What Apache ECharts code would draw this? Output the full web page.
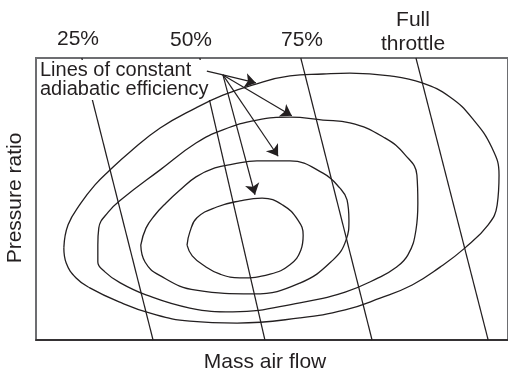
<!DOCTYPE html>
<html>
<head>
<meta charset="utf-8">
<script src="https://cdn.jsdelivr.net/npm/echarts@6/dist/echarts.min.js"></script>
<style>
html, body { margin: 0; padding: 0; background: #fff; }
#main { width: 508px; height: 371px; }
</style>
</head>
<body>
<div id="main"></div>
<script>
// contours of constant adiabatic efficiency, [mass air flow, pressure ratio], axis 0-100 x 0-60
var contourOuter = [[5.9,19.6],[6.8,24.5],[9.5,29.1],[12.5,33.0],[15.5,36.0],[19.9,40.0],[26.3,45.1],[33.9,49.4],
    [39.6,52.1],[46.0,54.3],[53.8,56.2],[60.8,56.6],[66.5,56.8],[75.0,56.2],[81.8,54.7],[87.7,51.7],[92.4,47.2],
    [96.6,40.9],[98.1,35.1],[97.7,28.7],[95.8,24.5],[90.9,19.6],[85.6,15.5],[79.7,11.7],[72.9,8.9],[65.5,6.4],
    [55.9,4.7],[42.6,3.6],[32.6,4.0],[24.2,5.7],[17.6,8.1],[11.4,11.1],[8.5,13.2],[6.4,16.4]];
var contour2 = [[13.1,20.2],[13.3,23.8],[15.3,27.2],[18.2,30.0],[26.3,36.2],[33.9,41.9],[39.6,44.7],[46.8,46.8],
    [53.8,47.4],[60.8,46.8],[66.5,46.2],[73.9,43.0],[78.2,39.4],[80.7,35.1],[80.9,29.1],[80.5,23.4],[78.8,18.1],
    [76.1,15.3],[72.5,13.2],[65.5,10.2],[55.9,7.9],[41.7,6.0],[32.6,6.8],[23.3,9.6],[17.6,12.3],[14.6,14.5],[13.1,16.6]];
var contour3 = [[22.2,20.2],[23.3,23.8],[25.2,26.6],[27.5,29.1],[30.5,31.9],[33.9,34.7],[37.9,36.6],[41.7,37.4],
    [46.8,38.1],[53.8,38.1],[60.8,35.5],[64.4,32.3],[65.9,29.8],[66.3,25.5],[65.7,21.3],[62.9,17.0],[55.9,12.1],
    [46.0,9.8],[33.9,10.6],[26.1,13.8],[23.1,16.6]];
var contourInner = [[32.0,20.2],[32.6,23.0],[34.1,26.0],[38.3,28.3],[43.2,29.6],[47.9,30.2],[52.3,28.7],[55.5,25.5],
    [56.6,22.3],[56.1,19.1],[53.8,16.0],[49.6,14.0],[43.2,13.2],[39.0,14.0],[35.8,15.7],[33.1,17.9]];

// throttle lines: x at top (y=60) and bottom (y=0)
var throttleNames = ['25%', '50%', '75%', 'Full throttle'];
var throttleTopX = [9.7, 34.7, 56.1, 80.5];
var throttleBottomX = [24.8, 48.5, 71.2, 95.8];

// annotation arrows
var arrowTail = [36.2, 57.2];
var arrowOrigin = [39.6, 56.4];
var arrowTargets = [[46.6, 54.7], [54.2, 47.7], [51.3, 39.1], [46.4, 30.9]];

var ink = '#231f20';
var font = '"Liberation Sans", Arial, sans-serif';

var myChart = echarts.init(document.getElementById('main'));

var series = [];
[contourOuter, contour2, contour3, contourInner].forEach(function (c) {
    series.push({
        type: 'line',
        data: c.concat([c[0]]),
        smooth: 0.45,
        showSymbol: false,
        silent: true,
        lineStyle: { color: ink, width: 1.3 }
    });
});
throttleNames.forEach(function (name, i) {
    series.push({
        name: name,
        type: 'line',
        data: [[throttleTopX[i], 60], [throttleBottomX[i], 0]],
        showSymbol: false,
        silent: true,
        lineStyle: { color: ink, width: 1.2 }
    });
});
series.push({
    type: 'line',
    data: [arrowTail, arrowOrigin],
    showSymbol: false,
    silent: true,
    z: 20,
    lineStyle: { color: ink, width: 1.2 }
});
series.push({
    type: 'lines',
    coordinateSystem: 'cartesian2d',
    symbol: ['none', 'arrow'],
    symbolSize: 11,
    silent: true,
    z: 20,
    lineStyle: { color: ink, width: 1.2, opacity: 1 },
    data: arrowTargets.map(function (t) { return { coords: [arrowOrigin, t] }; })
});

option = {
    backgroundColor: '#fff',
    animation: false,
    grid: {
        left: 36,
        right: -2,
        top: 58,
        bottom: 31,
        show: true,
        borderColor: '#6d6e71',
        borderWidth: 2
    },
    xAxis: {
        type: 'value',
        min: 0,
        max: 100,
        axisLine: { show: true, lineStyle: { color: ink, width: 1.5 } },
        axisTick: { show: false },
        axisLabel: { show: false },
        splitLine: { show: false }
    },
    yAxis: {
        type: 'value',
        min: 0,
        max: 60,
        axisLine: { show: false },
        axisTick: { show: false },
        axisLabel: { show: false },
        splitLine: { show: false }
    },
    graphic: [
        { type: 'rect', z: 50, shape: { x: 38, y: 60, width: 168, height: 22 }, style: { fill: '#fff' } },
        { type: 'rect', z: 50, shape: { x: 38, y: 80, width: 172, height: 20 }, style: { fill: '#fff' } },
        { type: 'text', z: 60, x: 40, y: 61, style: {
            text: 'Lines of constant\nadiabatic efficiency', font: '20px ' + font, fill: ink, lineHeight: 19 } },
        { type: 'text', z: 60, x: 78, y: 39, style: { text: '25%', font: '21px ' + font, fill: ink, textAlign: 'center', textVerticalAlign: 'middle' } },
        { type: 'text', z: 60, x: 191, y: 40, style: { text: '50%', font: '21px ' + font, fill: ink, textAlign: 'center', textVerticalAlign: 'middle' } },
        { type: 'text', z: 60, x: 302, y: 40, style: { text: '75%', font: '21px ' + font, fill: ink, textAlign: 'center', textVerticalAlign: 'middle' } },
        { type: 'text', z: 60, x: 413, y: 20, style: { text: 'Full', font: '21px ' + font, fill: ink, textAlign: 'center', textVerticalAlign: 'middle' } },
        { type: 'text', z: 60, x: 413, y: 44, style: { text: 'throttle', font: '21px ' + font, fill: ink, textAlign: 'center', textVerticalAlign: 'middle' } },
        { type: 'text', z: 60, x: 265, y: 362, style: { text: 'Mass air flow', font: '21px ' + font, fill: ink, textAlign: 'center', textVerticalAlign: 'middle' } },
        { type: 'text', z: 60, x: 15, y: 198, rotation: Math.PI / 2, style: { text: 'Pressure ratio', font: '21px ' + font, fill: ink, textAlign: 'center', textVerticalAlign: 'middle' } }
    ],
    series: series
};
myChart.setOption(option);
</script>
</body>
</html>
